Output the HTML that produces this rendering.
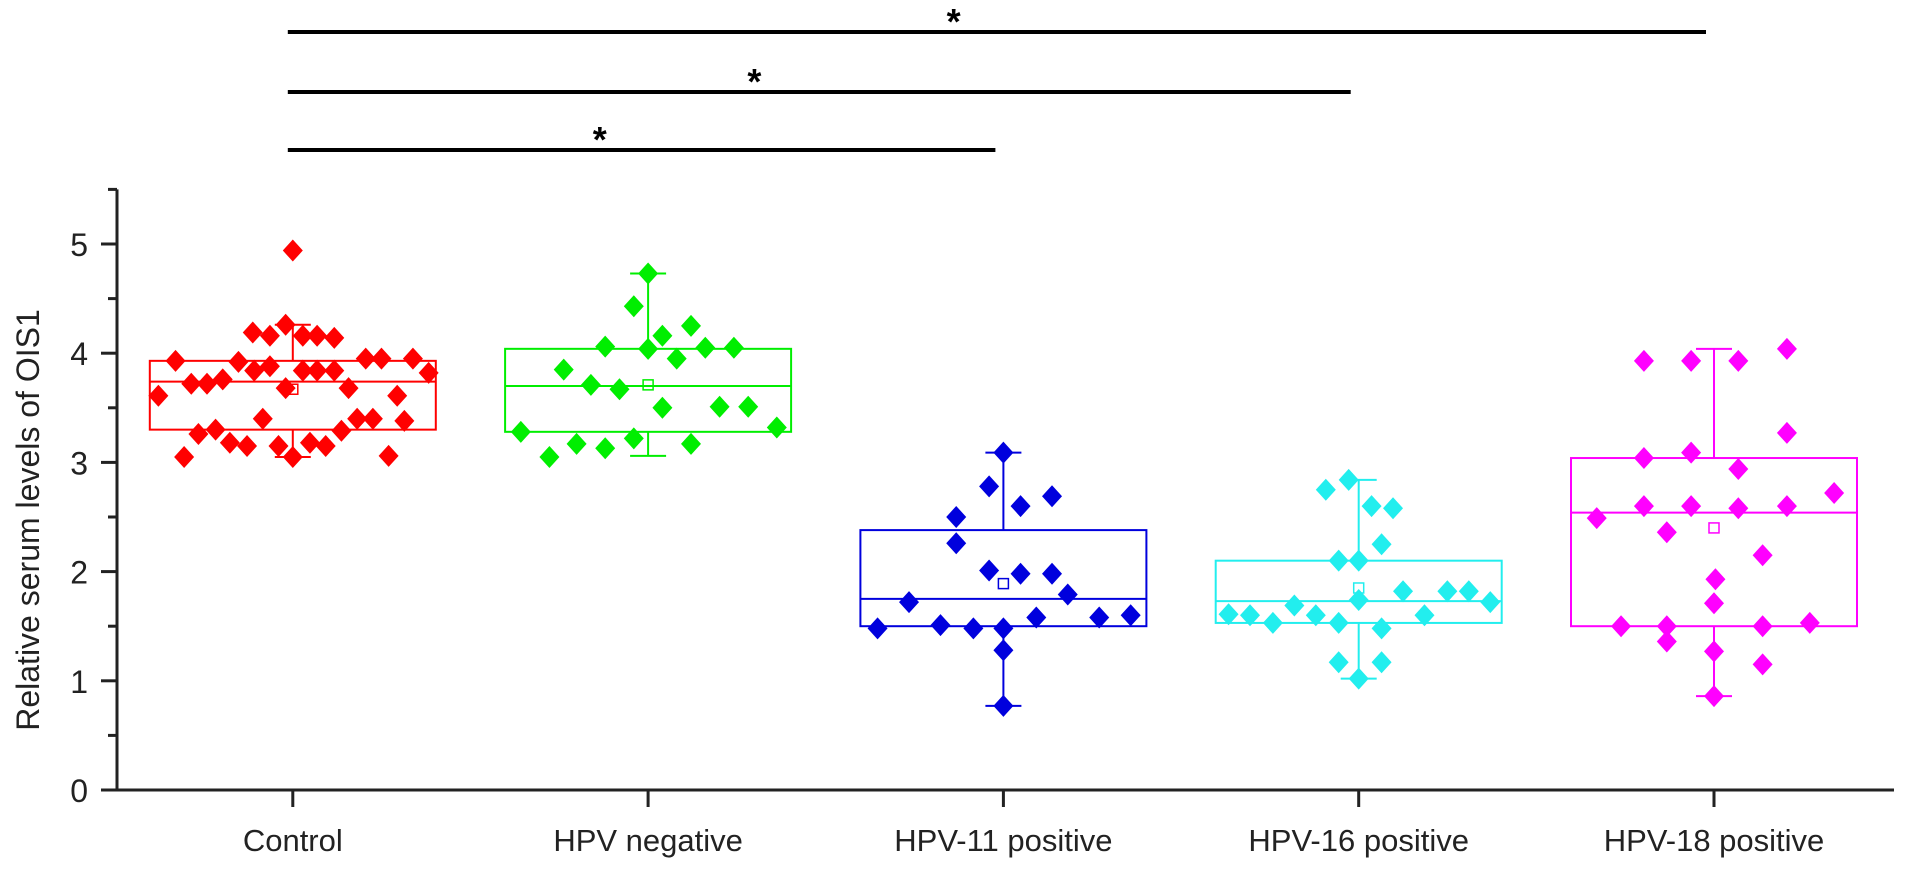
<!DOCTYPE html>
<html><head><meta charset="utf-8"><style>
html,body{margin:0;padding:0;background:#fff;}
svg{display:block;font-family:"Liberation Sans",Arial,sans-serif;}
</style></head><body>
<svg id="chart" width="1913" height="871" viewBox="0 0 1913 871" xmlns="http://www.w3.org/2000/svg"></svg>
<script>
const categories = ["Control","HPV negative","HPV-11 positive","HPV-16 positive","HPV-18 positive"];
const colors = ["#ff0000","#00ee00","#0000dd","#22eeee","#ff00ff"];
const q1 = [3.30,3.28,1.50,1.53,1.50];
const median = [3.74,3.70,1.75,1.73,2.54];
const q3 = [3.93,4.04,2.38,2.10,3.04];
const means = [3.67,3.71,1.89,1.85,2.40];
const whiskerLow = [3.05,3.06,0.77,1.02,0.86];
const whiskerHigh = [4.26,4.73,3.09,2.84,4.04];
const values0 = [3.61,3.93,3.05,3.72,3.26,3.72,3.30,3.76,3.18,3.92,3.15,4.19,3.84,3.40,4.16,3.88,3.15,4.26,3.68,4.94,3.05,4.16,3.84,3.18,4.16,3.84,3.15,4.14,3.84,3.29,3.68,3.40,3.95,3.40,3.95,3.06,3.61,3.38,3.95,3.82];
const jitter0 = [-0.94,-0.82,-0.76,-0.71,-0.66,-0.60,-0.54,-0.49,-0.44,-0.38,-0.32,-0.28,-0.27,-0.21,-0.16,-0.16,-0.10,-0.05,-0.05,0,0,0.07,0.07,0.12,0.17,0.17,0.23,0.29,0.29,0.34,0.39,0.45,0.51,0.56,0.62,0.67,0.73,0.78,0.84,0.95];
const values1 = [4.73,4.43,4.16,4.25,4.06,4.04,4.05,4.05,3.95,3.85,3.71,3.67,3.50,3.51,3.51,3.28,3.32,3.17,3.13,3.22,3.17,3.05];
const jitter1 = [0,-0.10,0.10,0.30,-0.30,0,0.40,0.60,0.20,-0.59,-0.40,-0.20,0.10,0.50,0.70,-0.89,0.90,-0.50,-0.30,-0.10,0.30,-0.69];
const values2 = [3.09,2.78,2.60,2.69,2.50,2.26,2.01,1.98,1.98,1.79,1.72,1.58,1.58,1.60,1.48,1.51,1.48,1.48,1.28,0.77];
const jitter2 = [0,-0.10,0.12,0.34,-0.33,-0.33,-0.10,0.12,0.34,0.45,-0.66,0.23,0.67,0.89,-0.88,-0.44,-0.21,0,0,0];
const values3 = [2.84,2.75,2.60,2.58,2.25,2.10,2.10,1.82,1.82,1.82,1.72,1.74,1.69,1.61,1.60,1.60,1.60,1.53,1.53,1.48,1.17,1.17,1.02];
const jitter3 = [-0.07,-0.23,0.09,0.24,0.16,-0.14,0,0.31,0.62,0.77,0.92,0,-0.45,-0.91,-0.76,-0.30,0.46,-0.60,-0.14,0.16,-0.14,0.16,0];
const values4 = [3.93,3.93,3.93,4.04,3.27,3.04,3.09,2.94,2.72,2.49,2.60,2.60,2.58,2.60,2.36,2.15,1.93,1.71,1.50,1.50,1.50,1.53,1.36,1.27,1.15,0.86];
const jitter4 = [-0.49,-0.16,0.17,0.51,0.51,-0.49,-0.16,0.17,0.84,-0.82,-0.49,-0.16,0.17,0.51,-0.33,0.34,0.01,0,-0.65,-0.33,0.34,0.67,-0.33,0,0.34,0];
const seriesValues = [values0,values1,values2,values3,values4];
const seriesJitter = [jitter0,jitter1,jitter2,jitter3,jitter4];
const yTicks = [0,1,2,3,4,5];
const yMinorTicks = [0.5,1.5,2.5,3.5,4.5,5.5];
const comparisons = [[0,4],[0,3],[0,2]];
const compLabels = ["*","*","*"];
const starFrac = [0.465,0.433,0.432];

const svg = document.getElementById('chart');
const NS = 'http://www.w3.org/2000/svg';
const y = v => 790 - v*109.2;
const x = i => 292.8 + i*355.3;
const HALF = 143;
function mk(tag, attrs, parent){ const e=document.createElementNS(NS,tag); for(const k in attrs) e.setAttribute(k,attrs[k]); (parent||svg).appendChild(e); return e; }

const ax = mk('line',{x1:117,y1:y(5.5),x2:117,y2:791.5,stroke:'#222','stroke-width':3});


const xa = mk('line',{x1:101,y1:790,x2:1894,y2:790,stroke:'#222','stroke-width':3});


yTicks.forEach(t=>{
  const tk = mk('line',{x1:101,y1:y(t),x2:117,y2:y(t),stroke:'#222','stroke-width':3});
  
  
  const tl = mk('text',{x:88,y:y(t)+12,'text-anchor':'end','font-size':32,fill:'#222'});
  tl.textContent = t;
  
  
});
yMinorTicks.forEach(t=>{
  const tk = mk('line',{x1:108,y1:y(t),x2:117,y2:y(t),stroke:'#222','stroke-width':3});
  
  
});
const yt = mk('text',{x:0,y:0,transform:'translate(39,520) rotate(-90)','text-anchor':'middle','font-size':32,fill:'#222'});
yt.textContent = 'Relative serum levels of OIS1';



categories.forEach((c,i)=>{
  const cx = x(i);
  const tk = mk('line',{x1:cx,y1:790,x2:cx,y2:807,stroke:'#222','stroke-width':3});
  
  
  const tl = mk('text',{x:cx,y:851,'text-anchor':'middle','font-size':31,fill:'#222'});
  tl.textContent = c;
  
  
  const col = colors[i];
  const g = mk('g',{});
  
  
  mk('line',{x1:cx,y1:y(whiskerHigh[i]),x2:cx,y2:y(q3[i]),stroke:col,'stroke-width':2},g);
  mk('line',{x1:cx,y1:y(q1[i]),x2:cx,y2:y(whiskerLow[i]),stroke:col,'stroke-width':2},g);
  mk('line',{x1:cx-18,y1:y(whiskerHigh[i]),x2:cx+18,y2:y(whiskerHigh[i]),stroke:col,'stroke-width':2},g);
  mk('line',{x1:cx-18,y1:y(whiskerLow[i]),x2:cx+18,y2:y(whiskerLow[i]),stroke:col,'stroke-width':2},g);
  mk('rect',{x:cx-HALF,y:y(q3[i]),width:2*HALF,height:y(q1[i])-y(q3[i]),fill:'none',stroke:col,'stroke-width':2},g);
  mk('line',{x1:cx-HALF,y1:y(median[i]),x2:cx+HALF,y2:y(median[i]),stroke:col,'stroke-width':2},g);
  mk('rect',{x:cx-5,y:y(means[i])-5,width:10,height:10,fill:'none',stroke:col,'stroke-width':1.5},g);
  seriesValues[i].forEach((v,j)=>{
    const px = cx + seriesJitter[i][j]*HALF, py = y(v);
    const d = mk('polygon',{points:`${px},${py-11} ${px+10},${py} ${px},${py+11} ${px-10},${py}`,fill:col},g);
    
    
  });
});

const lineY = [32,92,150];
comparisons.forEach((cp,k)=>{
  const ly = lineY[k];
  const l = mk('line',{x1:x(cp[0])-5,y1:ly,x2:x(cp[1])-8,y2:ly,stroke:'#000','stroke-width':4});
  
  
  const sx = x(cp[0]) + starFrac[k]*(x(cp[1])-x(cp[0]));
  const s = mk('text',{x:sx,y:ly+2,'text-anchor':'middle','font-size':36,'font-weight':'bold',fill:'#000'});
  s.textContent = compLabels[k];
  
  
});
</script>
</body></html>
